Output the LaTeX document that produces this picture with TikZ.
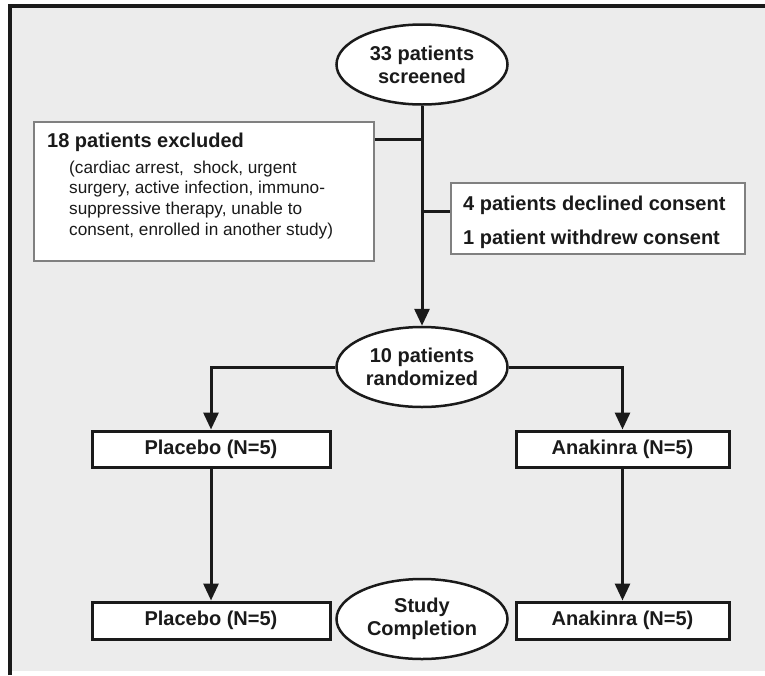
\documentclass[tikz,border=0pt]{standalone}
\usepackage{fontspec}
\setmainfont{Liberation Sans}
\usetikzlibrary{shapes.geometric,arrows.meta}
\definecolor{bg}{HTML}{ECECEC}
\definecolor{ink}{HTML}{1A1A1A}
\definecolor{thinline}{HTML}{808080}
\tikzset{
  oval/.style={ellipse, draw=ink, line width=2.5pt, fill=white, minimum width=171pt, minimum height=80pt, inner sep=0pt, align=center, text=ink, font=\fontsize{20}{23}\selectfont\bfseries},
  thickbox/.style={draw=ink, line width=3pt, fill=white, inner sep=0pt, text=ink, font=\fontsize{20}{23}\selectfont\bfseries},
  thinbox/.style={draw=thinline, line width=1.3pt, fill=white, inner sep=0pt},
  boldtext/.style={anchor=base west, inner sep=0pt, text=ink, font=\fontsize{20}{23}\selectfont\bfseries},
  regtext/.style={anchor=base west, inner sep=0pt, text=ink, font=\fontsize{17.2}{20.7}\selectfont},
  conn/.style={line width=3pt, draw=ink},
  arr/.style={conn, -{Triangle[length=17pt,width=15pt]}}
}
\begin{document}
\begin{tikzpicture}[x=1pt,y=-1pt]
\useasboundingbox (0,0) rectangle (765,675);
\fill[white] (0,0) rectangle (765,675);
\fill[bg] (10,6) rectangle (765,671);
\draw[line width=3.5pt, ink] (9.75,675) -- (9.75,6) -- (765,6);

% nodes
\node[oval] (scr) at (422,64.5) {33 patients\\screened};
\node[thinbox, minimum width=340pt, minimum height=139pt] (excl) at (204,191.5) {};
\node[thinbox, minimum width=294pt, minimum height=71pt] (cons) at (598,218.5) {};
\node[oval] (rand) at (422,367) {10 patients\\randomized};
\node[thickbox, minimum width=238pt, minimum height=36pt] (p1) at (211,449) {Placebo (N=5)};
\node[thickbox, minimum width=213pt, minimum height=36pt] (a1) at (622.5,449) {Anakinra (N=5)};
\node[thickbox, minimum width=238pt, minimum height=37pt] (p2) at (211,620.5) {Placebo (N=5)};
\node[thickbox, minimum width=213pt, minimum height=37pt] (a2) at (622.5,620.5) {Anakinra (N=5)};
\node[oval] (done) at (422,619) {Study\\Completion};

% texts in the thin boxes
\node[boldtext] (exT) at (47,147) {18 patients excluded};
\node[regtext] (exL1) at (69,173) {(cardiac arrest,\ \ shock, urgent};
\node[regtext] (exL2) at (69,193.7) {surgery, active infection, immuno-};
\node[regtext] (exL3) at (69,214.4) {suppressive therapy, unable to};
\node[regtext] (exL4) at (69,235.1) {consent, enrolled in another study)};
\node[boldtext] (cnT1) at (463,210) {4 patients declined consent};
\node[boldtext] (cnT2) at (463,244) {1 patient withdrew consent};

% connectors
\coordinate (j1) at (422,139);
\coordinate (j2) at (422,211);
\draw[arr] (scr.south) -- (rand.north);
\draw[conn] (j1) -- (excl.east |- j1);
\draw[conn] (j2) -- (cons.west |- j2);
\draw[arr] (rand.west) -| (p1.north);
\draw[arr] (rand.east) -| (a1.north);
\draw[arr] (p1.south) -- (p2.north);
\draw[arr] (a1.south) -- (a2.north);
\end{tikzpicture}
\end{document}
